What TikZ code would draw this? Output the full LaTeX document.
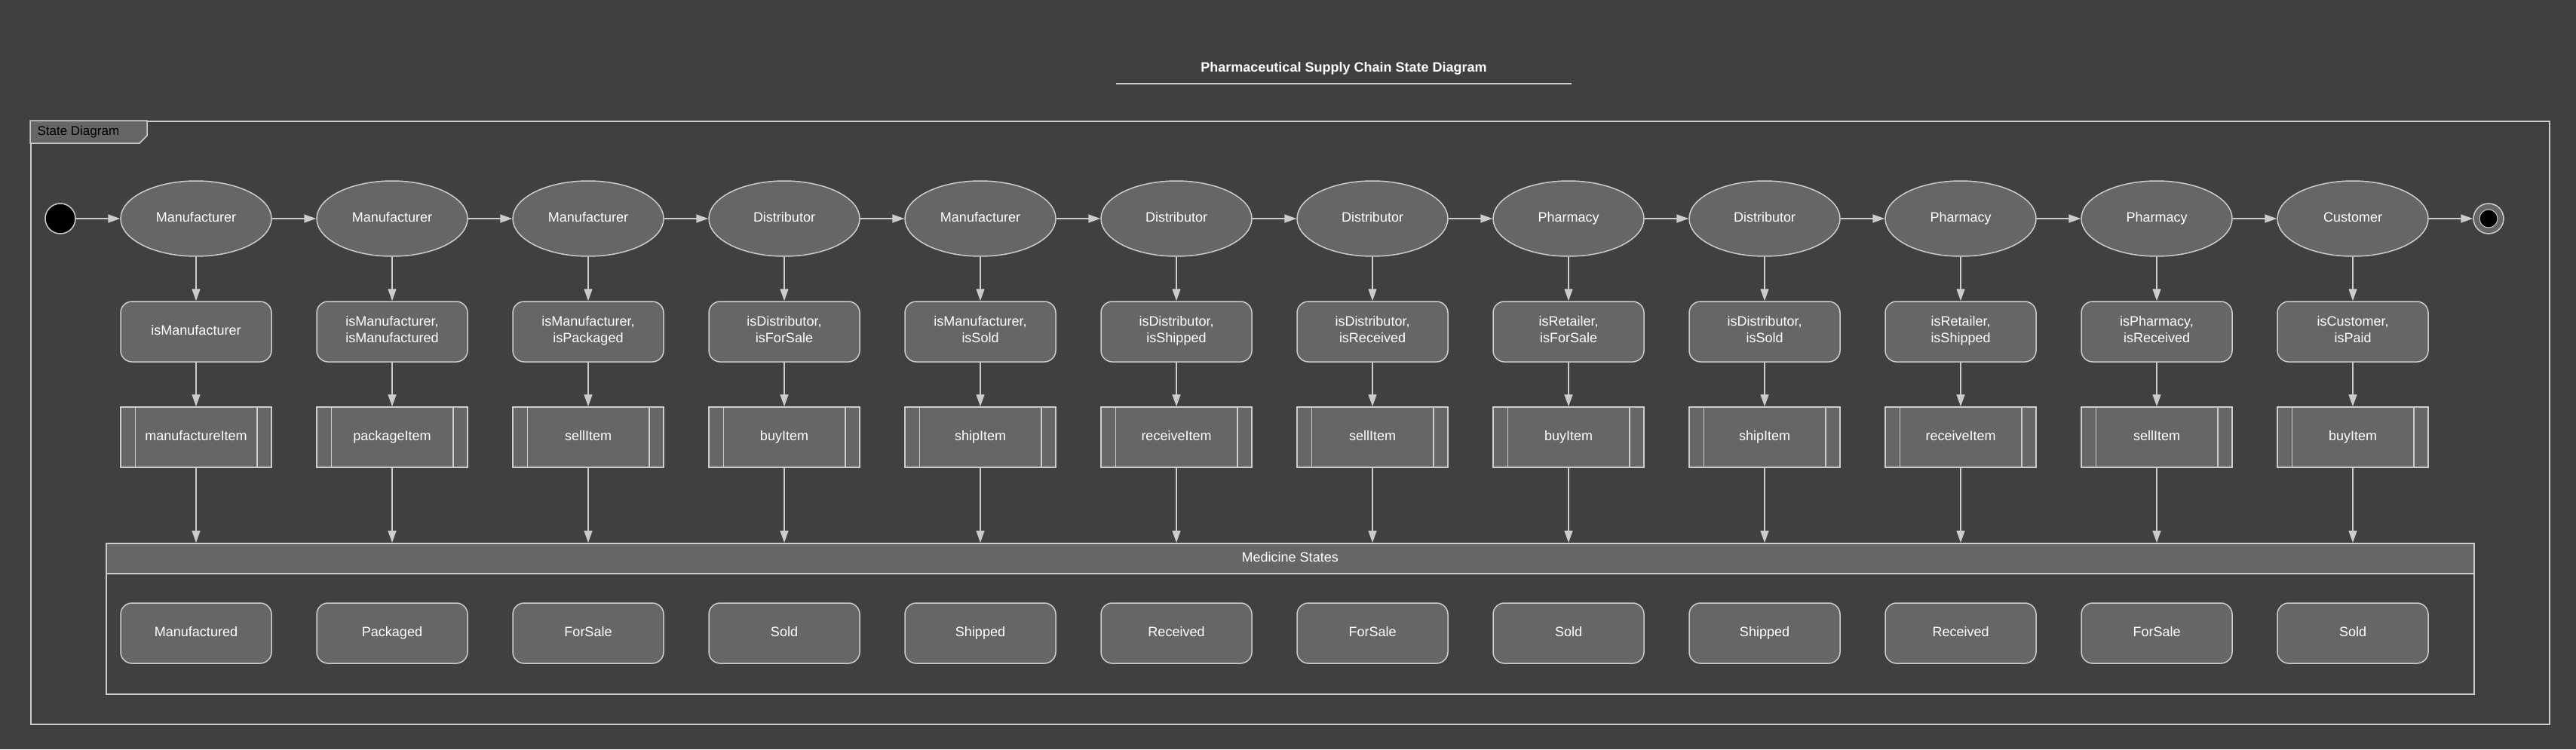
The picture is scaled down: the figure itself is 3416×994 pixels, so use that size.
\documentclass[tikz,border=0pt]{standalone}
\usepackage{fontspec}
\setmainfont{Liberation Sans}
\usetikzlibrary{arrows.meta,shapes.geometric}
\definecolor{bgcol}{HTML}{404040}
\definecolor{nodefill}{HTML}{666666}
\definecolor{edgecol}{HTML}{CCCCCC}
\begin{document}
\begin{tikzpicture}[x=1pt,y=-1pt,
  base/.style={draw=edgecol, line width=1.5pt, fill=nodefill, text=white, inner sep=0pt,
    font=\fontsize{18}{22}\selectfont, align=center,
    execute at begin node=\strut, execute at end node=\strut},
  ellnode/.style={base, ellipse, minimum width=200pt, minimum height=100pt},
  rbox/.style={base, rectangle, rounded corners=15pt, minimum width=200pt, minimum height=80pt},
  pbox/.style={base, rectangle, minimum width=200pt, minimum height=80pt},
  arr/.style={draw=edgecol, line width=1.5pt, -{Triangle[length=16pt,width=11pt]}},
  thinline/.style={draw=edgecol, line width=1.5pt}
]
\fill[bgcol] (0,0) rectangle (3416,994);
\useasboundingbox (0,0) rectangle (3416,994);

% title
\node[text=white, font=\fontsize{18}{22}\selectfont\bfseries] (title) at (1782,91) {Pharmaceutical Supply Chain State Diagram};
\draw[thinline] (1480,111) -- (2084,111);

% frame
\node[draw=edgecol, line width=1.5pt, minimum width=3340pt, minimum height=800pt, anchor=north west, inner sep=0pt] (frame) at (40,160) {};
\draw[thinline, fill=nodefill] (40,160) -- (195,160) -- (195,180) -- (185,190) -- (40,190) -- cycle;
\node[anchor=west, text=black, font=\fontsize{17}{20}\selectfont] (framelabel) at (46,175) {State Diagram};

% container
\node[draw=edgecol, line width=1.5pt, minimum width=3140pt, minimum height=200pt, anchor=north west, inner sep=0pt] (ms) at (140,720) {};
\node[base, minimum width=3140pt, minimum height=40pt, anchor=north west] (msh) at (140,720) {Medicine States};

% initial & final
\node[circle, fill=black, draw=edgecol, line width=1.5pt, minimum size=40pt, inner sep=0pt] (init) at (80,290) {};
\node[circle, fill=nodefill, draw=edgecol, line width=1.5pt, minimum size=40pt, inner sep=0pt] (fin) at (3300,290) {};
\node[circle, fill=black, draw=edgecol, line width=1pt, minimum size=24pt, inner sep=0pt] (finin) at (fin) {};

\foreach \i/\who/\cond/\proc/\st in {
 1/Manufacturer/isManufacturer/manufactureItem/Manufactured,
 2/Manufacturer/{isManufacturer,\\isManufactured}/packageItem/Packaged,
 3/Manufacturer/{isManufacturer,\\isPackaged}/sellItem/ForSale,
 4/Distributor/{isDistributor,\\isForSale}/buyItem/Sold,
 5/Manufacturer/{isManufacturer,\\isSold}/shipItem/Shipped,
 6/Distributor/{isDistributor,\\isShipped}/receiveItem/Received,
 7/Distributor/{isDistributor,\\isReceived}/sellItem/ForSale,
 8/Pharmacy/{isRetailer,\\isForSale}/buyItem/Sold,
 9/Distributor/{isDistributor,\\isSold}/shipItem/Shipped,
 10/Pharmacy/{isRetailer,\\isShipped}/receiveItem/Received,
 11/Pharmacy/{isPharmacy,\\isReceived}/sellItem/ForSale,
 12/Customer/{isCustomer,\\isPaid}/buyItem/Sold}{
  \node[ellnode] (e\i) at (260*\i,290) {\who};
  \node[rbox] (c\i) at (260*\i,440) {\cond};
  \node[pbox] (p\i) at (260*\i,580) {\proc};
  \node[rbox] (s\i) at (260*\i,840) {\st};
  \draw[thinline] ([xshift=20pt]p\i.north west) -- ([xshift=20pt]p\i.south west);
  \draw[thinline] ([xshift=-20pt]p\i.north east) -- ([xshift=-20pt]p\i.south east);
  \draw[arr] (e\i) -- (c\i);
  \draw[arr] (c\i) -- (p\i);
  \draw[arr] (p\i.south) -- (p\i.south |- ms.north);
}
\foreach \i [evaluate=\i as \j using int(\i+1)] in {1,...,11}{
  \draw[arr] (e\i) -- (e\j);
}
\draw[arr] (init) -- (e1);
\draw[arr] (e12) -- (fin);
\end{tikzpicture}
\end{document}
